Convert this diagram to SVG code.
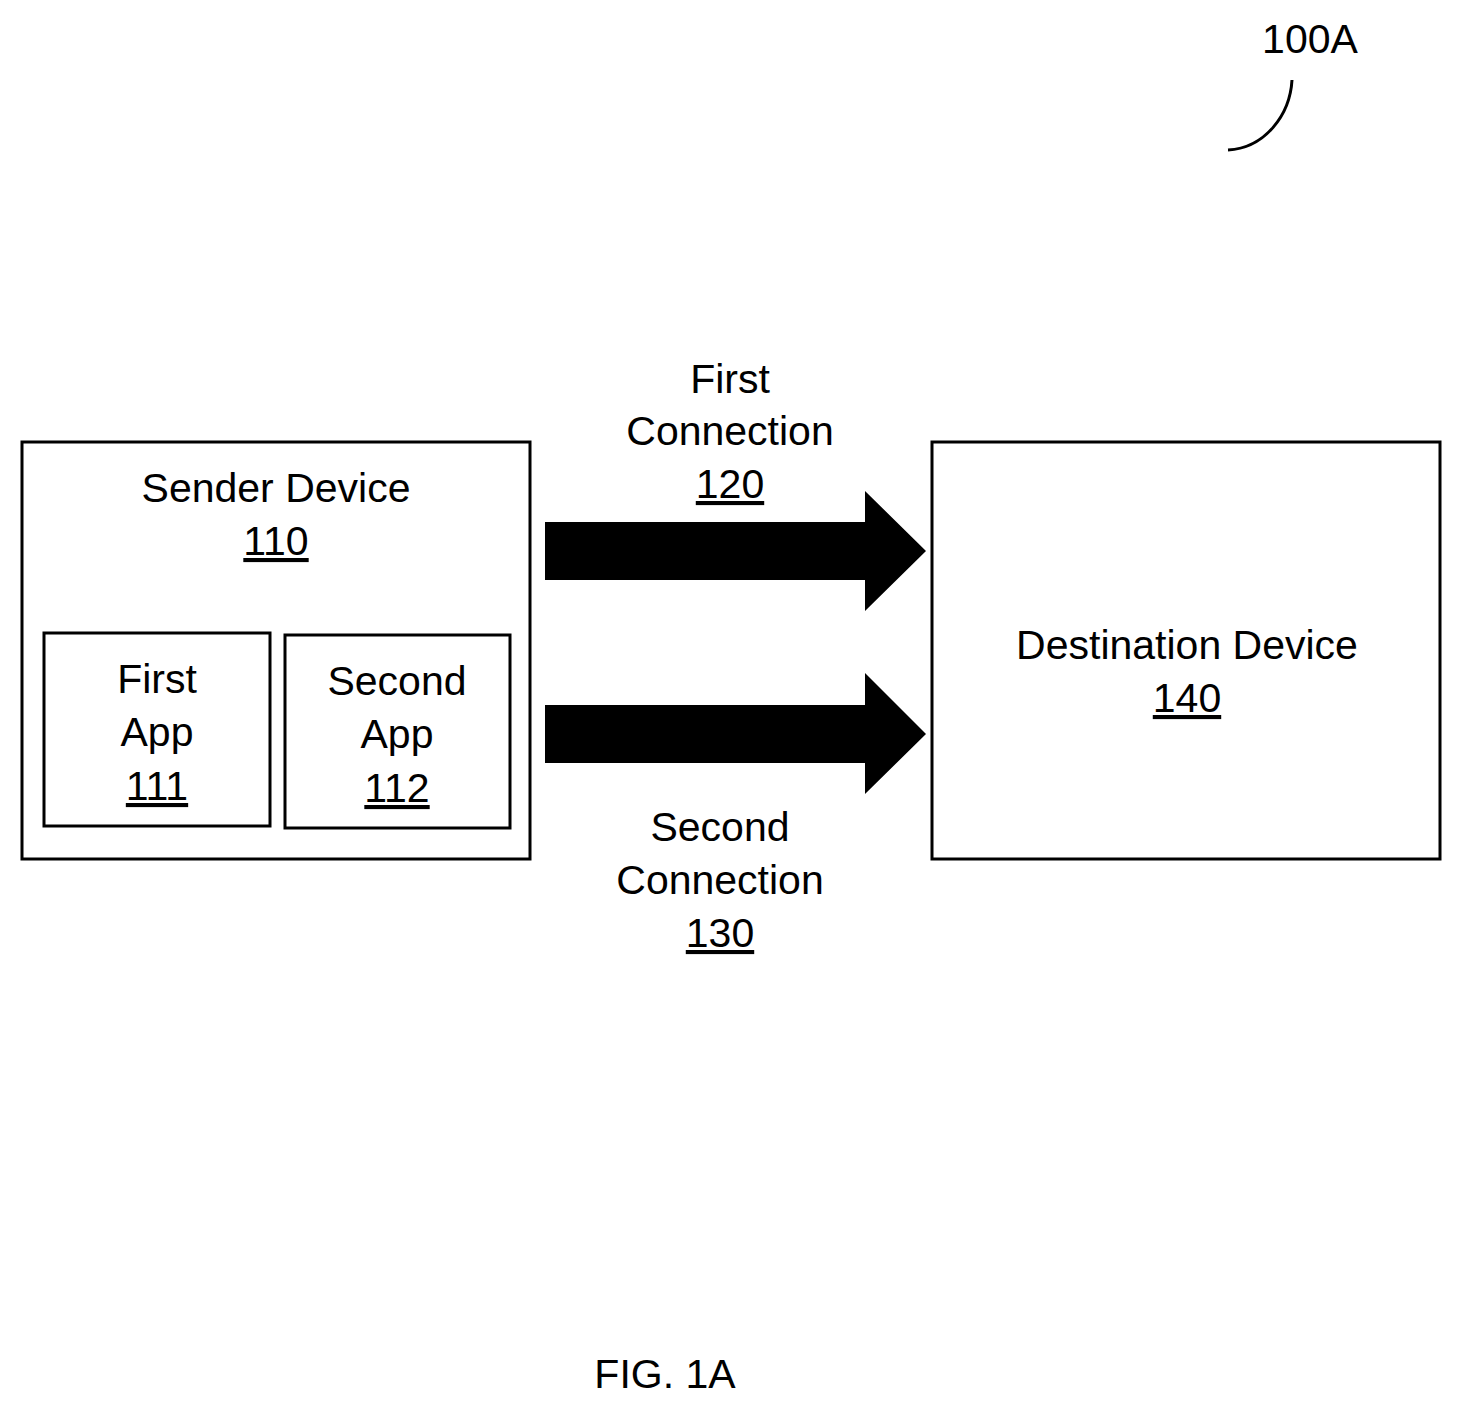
<svg xmlns="http://www.w3.org/2000/svg" width="1462" height="1409" viewBox="0 0 1462 1409">
<style>
text{font-family:"Liberation Sans",Arial,sans-serif;font-size:41px;fill:#000;text-anchor:middle}
.b{fill:none;stroke:#000;stroke-width:3}
.u{text-decoration:underline}
</style>
<rect width="1462" height="1409" fill="#fff"/>
<g id="sender"><rect class="b" x="22" y="442" width="508" height="417"/>
<text x="276" y="502">Sender Device</text><text x="276" y="555" class="u">110</text></g>
<g id="app1"><rect class="b" x="44" y="633" width="226" height="193"/>
<text x="157" y="693">First</text><text x="157" y="746">App</text><text x="157" y="800" class="u">111</text></g>
<g id="app2"><rect class="b" x="285" y="635" width="225" height="193"/>
<text x="397" y="695">Second</text><text x="397" y="748">App</text><text x="397" y="802" class="u">112</text></g>
<g id="dest"><rect class="b" x="932" y="442" width="508" height="417"/>
<text x="1187" y="659">Destination Device</text><text x="1187" y="712" class="u">140</text></g>
<g id="connectors">
<polygon points="545,522 865,522 865,491 926,551 865,611 865,580 545,580" fill="#000"/>
<polygon points="545,705 865,705 865,673 926,734 865,794 865,763 545,763" fill="#000"/>
<path d="M1292,80 C1290,115 1265,148 1228,150" class="b"/>
</g>
<g id="labels">
<text x="730" y="393">First</text><text x="730" y="445">Connection</text><text x="730" y="498" class="u">120</text>
<text x="720" y="841">Second</text><text x="720" y="894">Connection</text><text x="720" y="947" class="u">130</text>
<text x="1310" y="53">100A</text>
<text x="665" y="1388">FIG. 1A</text>
</g>
</svg>
